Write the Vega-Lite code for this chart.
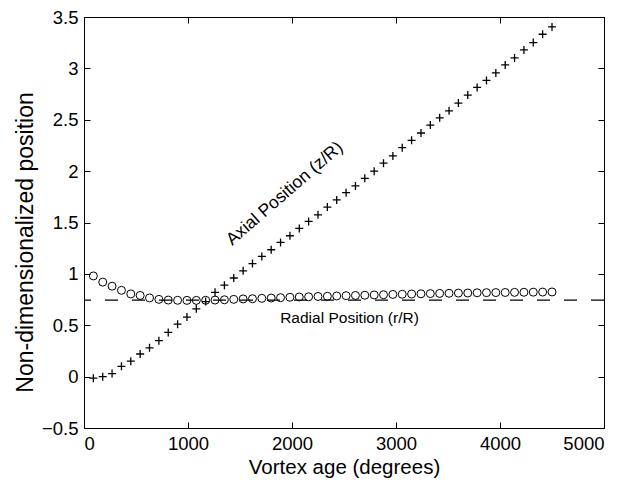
{
  "$schema": "https://vega.github.io/schema/vega-lite/v6.json",
  "autosize": {"type": "none"},
  "padding": {"left": 84, "top": 17, "right": 26, "bottom": 52},
  "width": 520,
  "height": 411,
  "background": "white",
  "config": {
    "view": {"stroke": "black", "strokeWidth": 1},
    "font": "Liberation Sans",
    "axis": {
      "grid": false,
      "domainColor": "black",
      "tickColor": "black",
      "labelColor": "black",
      "titleColor": "black",
      "labelFont": "Liberation Sans",
      "titleFont": "Liberation Sans",
      "labelFontSize": 18.5,
      "titleFontSize": 20.5,
      "titleFontWeight": "normal",
      "tickSize": -6,
      "labelPadding": 12
    }
  },
  "datasets": {
    "axial": [
      {"age": 90, "z": -0.015}, {"age": 180, "z": 0.0}, {"age": 270, "z": 0.03}, {"age": 360, "z": 0.1},
      {"age": 450, "z": 0.15}, {"age": 540, "z": 0.22}, {"age": 630, "z": 0.28}, {"age": 720, "z": 0.35},
      {"age": 810, "z": 0.43}, {"age": 900, "z": 0.51}, {"age": 990, "z": 0.58}, {"age": 1080, "z": 0.66},
      {"age": 1170, "z": 0.73}, {"age": 1260, "z": 0.82}, {"age": 1350, "z": 0.89}, {"age": 1440, "z": 0.96},
      {"age": 1530, "z": 1.03}, {"age": 1620, "z": 1.1}, {"age": 1710, "z": 1.17}, {"age": 1800, "z": 1.235},
      {"age": 1890, "z": 1.306}, {"age": 1980, "z": 1.371}, {"age": 2070, "z": 1.442}, {"age": 2160, "z": 1.51},
      {"age": 2250, "z": 1.575}, {"age": 2340, "z": 1.65}, {"age": 2430, "z": 1.72}, {"age": 2520, "z": 1.79},
      {"age": 2610, "z": 1.856}, {"age": 2700, "z": 1.93}, {"age": 2790, "z": 2.0}, {"age": 2880, "z": 2.077},
      {"age": 2970, "z": 2.148}, {"age": 3060, "z": 2.228}, {"age": 3150, "z": 2.3}, {"age": 3240, "z": 2.371},
      {"age": 3330, "z": 2.448}, {"age": 3420, "z": 2.519}, {"age": 3510, "z": 2.587}, {"age": 3600, "z": 2.662},
      {"age": 3690, "z": 2.74}, {"age": 3780, "z": 2.815}, {"age": 3870, "z": 2.883}, {"age": 3960, "z": 2.956},
      {"age": 4050, "z": 3.034}, {"age": 4140, "z": 3.102}, {"age": 4230, "z": 3.18}, {"age": 4320, "z": 3.251},
      {"age": 4410, "z": 3.332}, {"age": 4500, "z": 3.403}
    ],
    "radial": [
      {"age": 90, "r": 0.98}, {"age": 180, "r": 0.92}, {"age": 270, "r": 0.88}, {"age": 360, "r": 0.84},
      {"age": 450, "r": 0.805}, {"age": 540, "r": 0.79}, {"age": 630, "r": 0.766}, {"age": 720, "r": 0.752},
      {"age": 810, "r": 0.745}, {"age": 900, "r": 0.743}, {"age": 990, "r": 0.742}, {"age": 1080, "r": 0.742},
      {"age": 1170, "r": 0.743}, {"age": 1260, "r": 0.745}, {"age": 1350, "r": 0.748}, {"age": 1440, "r": 0.752},
      {"age": 1530, "r": 0.756}, {"age": 1620, "r": 0.758}, {"age": 1710, "r": 0.762}, {"age": 1800, "r": 0.765},
      {"age": 1890, "r": 0.768}, {"age": 1980, "r": 0.772}, {"age": 2070, "r": 0.775}, {"age": 2160, "r": 0.777},
      {"age": 2250, "r": 0.78}, {"age": 2340, "r": 0.782}, {"age": 2430, "r": 0.785}, {"age": 2520, "r": 0.788},
      {"age": 2610, "r": 0.79}, {"age": 2700, "r": 0.792}, {"age": 2790, "r": 0.795}, {"age": 2880, "r": 0.797},
      {"age": 2970, "r": 0.8}, {"age": 3060, "r": 0.802}, {"age": 3150, "r": 0.804}, {"age": 3240, "r": 0.806},
      {"age": 3330, "r": 0.808}, {"age": 3420, "r": 0.81}, {"age": 3510, "r": 0.811}, {"age": 3600, "r": 0.813},
      {"age": 3690, "r": 0.814}, {"age": 3780, "r": 0.816}, {"age": 3870, "r": 0.817}, {"age": 3960, "r": 0.818},
      {"age": 4050, "r": 0.819}, {"age": 4140, "r": 0.82}, {"age": 4230, "r": 0.821}, {"age": 4320, "r": 0.822},
      {"age": 4410, "r": 0.823}, {"age": 4500, "r": 0.824}
    ],
    "ref": [{"level": 0.745}],
    "labels1": [{"label": "Axial Position (z/R)", "age": 1930, "pos": 1.78}],
    "labels2": [{"label": "Radial Position (r/R)", "age": 2553, "pos": 0.57}]
  },
  "layer": [
    {
      "data": {"name": "ref"},
      "mark": {"type": "rule", "stroke": "black", "strokeWidth": 1.3, "strokeDash": [13, 14]},
      "encoding": {
        "y": {"field": "level", "type": "quantitative", "scale": {"domain": [-0.5, 3.5], "nice": false},
              "axis": {"orient": "right", "labels": false, "title": null, "values": [-0.5, 0, 0.5, 1, 1.5, 2, 2.5, 3, 3.5]}}
      }
    },
    {
      "data": {"name": "radial"},
      "mark": {"type": "point", "shape": "circle", "filled": false, "stroke": "black", "strokeWidth": 1, "size": 64, "opacity": 1},
      "encoding": {
        "x": {"field": "age", "type": "quantitative", "scale": {"domain": [0, 5000], "nice": false},
              "axis": {"orient": "top", "labels": false, "title": null, "values": [0, 1000, 2000, 3000, 4000, 5000]}},
        "y": {"field": "r", "type": "quantitative", "scale": {"domain": [-0.5, 3.5], "nice": false}, "axis": null}
      }
    },
    {
      "data": {"name": "axial"},
      "mark": {"type": "point", "shape": "M-1,0H1M0,-1V1", "filled": false, "stroke": "black", "strokeWidth": 1.3, "size": 64, "opacity": 1},
      "encoding": {
        "x": {"field": "age", "type": "quantitative", "scale": {"domain": [0, 5000], "nice": false},
              "axis": {"orient": "bottom", "title": "Vortex age (degrees)", "format": "d", "values": [0, 1000, 2000, 3000, 4000, 5000], "titleY": 45, "titleBaseline": "alphabetic"}},
        "y": {"field": "z", "type": "quantitative", "scale": {"domain": [-0.5, 3.5], "nice": false},
              "axis": {"orient": "left", "title": "Non-dimensionalized position", "format": "~g", "values": [-0.5, 0, 0.5, 1, 1.5, 2, 2.5, 3, 3.5], "titleFontSize": 23, "titleX": -52, "titleY": 225, "titleAngle": 270, "titleAlign": "center", "titleBaseline": "alphabetic"}}
      }
    },
    {
      "data": {"name": "labels1"},
      "mark": {"type": "text", "angle": -41, "fontSize": 17.5, "font": "Liberation Sans", "color": "black", "align": "center", "baseline": "middle"},
      "encoding": {
        "x": {"field": "age", "type": "quantitative", "axis": null},
        "y": {"field": "pos", "type": "quantitative", "axis": null},
        "text": {"field": "label"}
      }
    },
    {
      "data": {"name": "labels2"},
      "mark": {"type": "text", "fontSize": 15.5, "font": "Liberation Sans", "color": "black", "align": "center", "baseline": "middle"},
      "encoding": {
        "x": {"field": "age", "type": "quantitative", "axis": null},
        "y": {"field": "pos", "type": "quantitative", "axis": null},
        "text": {"field": "label"}
      }
    }
  ],
  "resolve": {"axis": {"x": "independent", "y": "independent"}}
}
